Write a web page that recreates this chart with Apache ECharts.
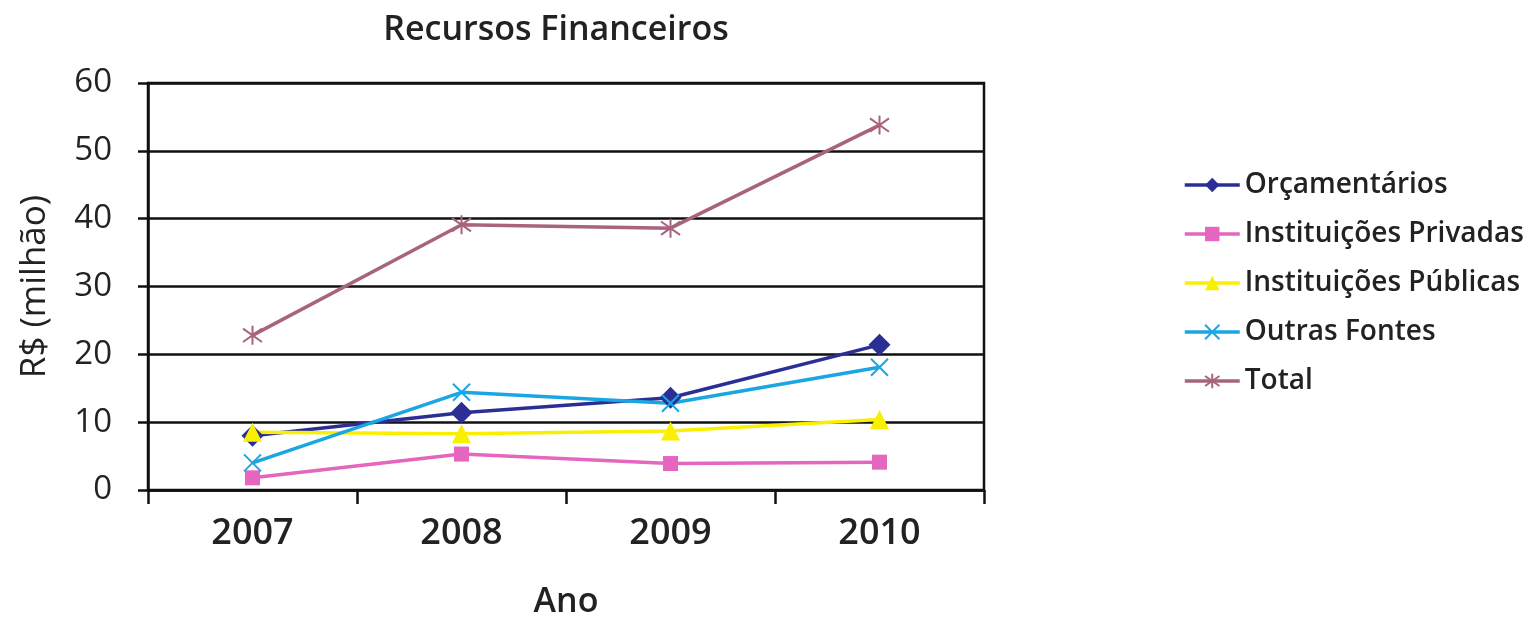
<!DOCTYPE html>
<html>
<head>
<meta charset="utf-8">
<script src="https://cdn.jsdelivr.net/npm/echarts@6/dist/echarts.min.js"></script>
<style>
html,body{margin:0;padding:0;background:#fff;}
#chart{width:1526px;height:618px;}
</style>
</head>
<body>
<div id="chart"></div>
<script>
const categories = ['2007', '2008', '2009', '2010'];
const orcamentarios = [8.0, 11.4, 13.6, 21.4];
const privadas = [1.8, 5.3, 3.9, 4.1];
const publicas = [8.5, 8.3, 8.7, 10.4];
const outras = [4.0, 14.4, 12.8, 18.1];
const total = [22.8, 39.1, 38.6, 53.8];
const yTicks = [0, 10, 20, 30, 40, 50, 60];
const seriesNames = ['Orçamentários', 'Instituições Privadas', 'Instituições Públicas', 'Outras Fontes', 'Total'];

const FONT = '"Open Sans", "DejaVu Sans", sans-serif';
const crossPath = 'path://M0,0L10,10M10,0L0,10';
const starPath = 'path://M5,0L5,10M0,1.5L10,8.5M0,8.5L10,1.5';

function mk(name, data, color, symbol, size, stroked) {
  return {
    name: name,
    type: 'line',
    data: data,
    symbol: symbol,
    symbolSize: size,
    lineStyle: { color: color, width: 3.5 },
    itemStyle: stroked ? { color: 'rgba(0,0,0,0)', borderColor: color, borderWidth: 2 } : { color: color },
    z: 3
  };
}

const chart = echarts.init(document.getElementById('chart'));
chart.setOption({
  backgroundColor: '#fff',
  animation: false,
  title: {
    text: 'Recursos Financeiros',
    left: 551, top: 8, textAlign: 'center',
    textStyle: { fontFamily: FONT, fontSize: 34, fontWeight: 600, color: '#222' }
  },
  legend: {
    orient: 'vertical',
    left: 1178, top: 166,
    itemGap: 21,
    itemWidth: 55, itemHeight: 18,
    lineStyle: { width: 3.5 },
    textStyle: { fontFamily: FONT, fontSize: 28, fontWeight: 600, color: '#222' },
    data: seriesNames
  },
  grid: {
    left: 148, right: 542, top: 83, bottom: 128,
    outerBoundsMode: 'none',
    show: true, borderColor: '#111', borderWidth: 2.5
  },
  xAxis: {
    type: 'category',
    data: categories,
    boundaryGap: true,
    name: 'Ano', nameLocation: 'middle', nameGap: 95,
    nameTextStyle: { fontFamily: FONT, fontSize: 34, fontWeight: 600, color: '#222', verticalAlign: 'top' },
    axisLine: { lineStyle: { color: '#111', width: 2.5 } },
    axisTick: { show: true, length: 14, lineStyle: { color: '#111', width: 2.5 } },
    axisLabel: { fontFamily: FONT, fontSize: 36, fontWeight: 600, color: '#222', margin: 26 }
  },
  yAxis: {
    type: 'value',
    min: 0, max: 60, interval: 10,
    name: 'R$ (milhão)', nameLocation: 'middle', nameGap: 95, nameRotate: 90,
    nameTextStyle: { fontFamily: FONT, fontSize: 35, color: '#222' },
    axisLine: { show: true, lineStyle: { color: '#111', width: 2.5 } },
    axisTick: { show: true, length: 10, lineStyle: { color: '#111', width: 2.5 } },
    axisLabel: { fontFamily: FONT, fontSize: 33, color: '#222', margin: 36,
      formatter: function (v) { return yTicks.indexOf(v) >= 0 ? String(v) : ''; } },
    splitLine: { show: true, lineStyle: { color: '#111', width: 2.5 } }
  },
  series: [
    mk(seriesNames[0], orcamentarios, '#2B2F95', 'diamond', 22, false),
    mk(seriesNames[1], privadas, '#E466BE', 'rect', 15, false),
    mk(seriesNames[2], publicas, '#F8F000', 'triangle', 19, false),
    mk(seriesNames[3], outras, '#1AA6E2', crossPath, 17, true),
    mk(seriesNames[4], total, '#A8637E', starPath, 19, true)
  ]
});
</script>
</body>
</html>
